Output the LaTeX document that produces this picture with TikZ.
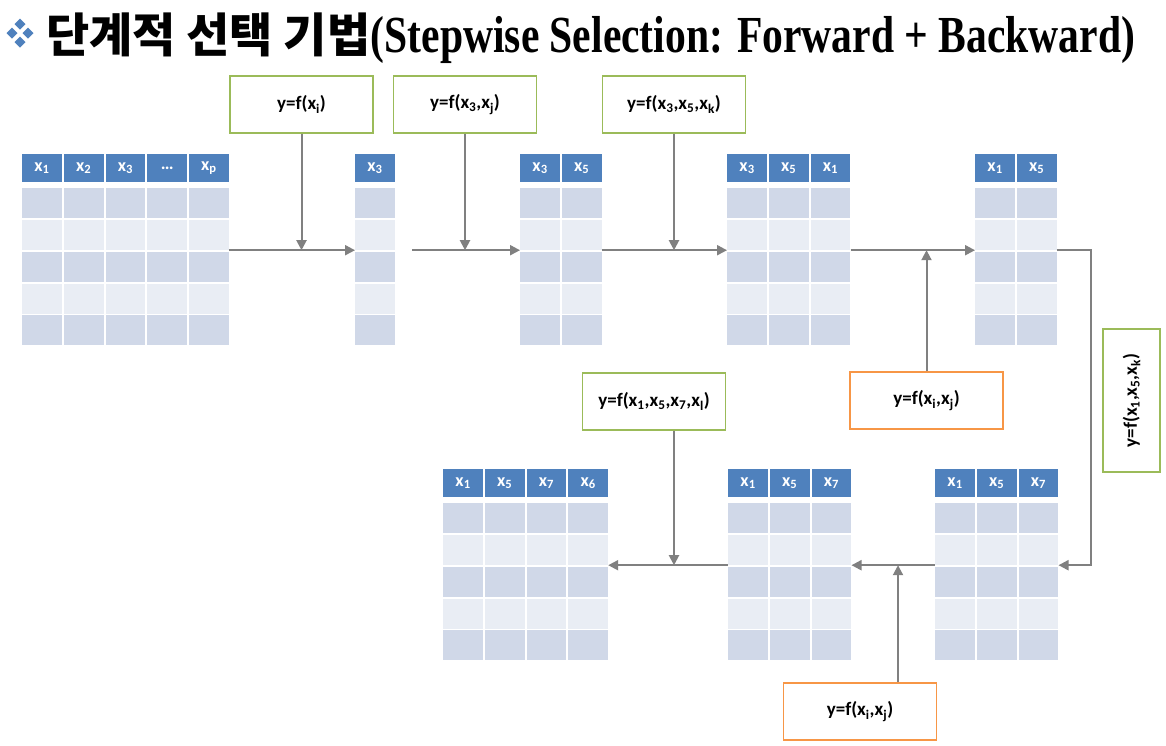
\documentclass[tikz,border=0pt]{standalone}
\usepackage{fontspec}
\setmainfont{Carlito}
\newfontfamily\korfont{Noto Sans CJK KR}
\newfontfamily\titlefont{Liberation Serif}[FakeStretch=0.8]
\usetikzlibrary{positioning,arrows.meta,shapes.geometric}
\definecolor{hdrblue}{HTML}{4F81BD}
\definecolor{celldark}{HTML}{D0D8E8}
\definecolor{celllight}{HTML}{E9EDF4}
\definecolor{arrgray}{HTML}{808080}
\definecolor{boxgreen}{HTML}{9BBB59}
\definecolor{boxorange}{HTML}{F79646}
\newcommand\xs[1]{x\textsubscript{#1}}
\tikzset{
  hcell/.style={fill=hdrblue,text=white,font=\bfseries\fontsize{18}{18}\selectfont,minimum width=39.7pt,minimum height=28pt,inner sep=0pt,anchor=north west},
  dcell/.style={fill=celldark,minimum width=39.7pt,minimum height=30pt,inner sep=0pt,anchor=north west},
  lcell/.style={dcell,fill=celllight},
  fbox/.style={draw=boxgreen,line width=1.5pt,fill=white,minimum width=143pt,minimum height=57pt,inner sep=0pt,font=\bfseries\fontsize{19}{19}\selectfont},
  bbox/.style={fbox,draw=boxorange,minimum width=153pt},
  arr/.style={-{Triangle[length=10pt,width=10pt]},draw=arrgray,line width=2pt},
}
% name, left, top, columns, headers
\newcommand\datatable[5]{%
  \node[inner sep=0pt,minimum width={#4*41.7pt-2pt},minimum height=192pt,anchor=north west] (#1) at (#2,#3) {};
  \foreach \h [count=\c] in {#5} {
    \node[hcell] (#1-h\c) at ({#2+(\c-1)*41.7},#3) {\h};
    \foreach \r/\cs in {1/dcell,2/lcell,3/dcell,4/lcell,5/dcell}
      \node[\cs] (#1-\c-\r) at ({#2+(\c-1)*41.7},{#3+34+(\r-1)*31.8}) {};
  }
}

\begin{document}
\begin{tikzpicture}[x=1pt,y=-1pt]
  \useasboundingbox[fill=white] (0,0) rectangle (1166,745);
  \foreach \x/\y in {20/24,12/33,28/33,20/42}
    \fill[hdrblue] (\x,\y-5.5) -- (\x+5.5,\y) -- (\x,\y+5.5) -- (\x-5.5,\y) -- cycle;
  \node[anchor=base west,inner sep=0pt,font=\korfont\bfseries\fontsize{47}{47}\selectfont] (ttl) at (46,52) {단계적 선택 기법};
  \node[anchor=base west,inner sep=0pt,font=\titlefont\bfseries\fontsize{52}{52}\selectfont] (ttlen) at (ttl.base east) {(Stepwise Selection: Forward + Backward)};

  \datatable{t1}{22}{154}{5}{\xs{1},\xs{2},\xs{3},…,\xs{p}}
  \datatable{t2}{355}{154}{1}{\xs{3}}
  \datatable{t3}{520}{154}{2}{\xs{3},\xs{5}}
  \datatable{t4}{727}{154}{3}{\xs{3},\xs{5},\xs{1}}
  \datatable{t5}{975}{154}{2}{\xs{1},\xs{5}}
  \datatable{tA}{443}{469}{4}{\xs{1},\xs{5},\xs{7},\xs{6}}
  \datatable{tB}{728}{469}{3}{\xs{1},\xs{5},\xs{7}}
  \datatable{tC}{935}{469}{3}{\xs{1},\xs{5},\xs{7}}

  \node[fbox] (g1) at (301.5,104.5) {y=f(\xs{i})};
  \node[fbox] (g2) at (465,104.5) {y=f(\xs{3},\xs{j})};
  \node[fbox] (g3) at (674,104.5) {y=f(\xs{3},\xs{5},\xs{k})};
  \node[bbox] (o1) at (926.5,400.5) {y=f(\xs{i},\xs{j})};
  \node[fbox,rotate=90] (g5) at (1131.5,400.5) {y=f(\xs{1},\xs{5},\xs{k})};
  \node[fbox] (g4) at (654,401.5) {y=f(\xs{1},\xs{5},\xs{7},\xs{l})};
  \node[bbox] (o2) at (860,711.5) {y=f(\xs{i},\xs{j})};
  \coordinate (bend) at (1091,400);

  \draw[arr] (t1.east) -- (t2.west);
  \draw[arr] ([xshift=17pt]t2.east) -- (t3.west);
  \draw[arr] (t3.east) -- (t4.west);
  \draw[arr] (t4.east) -- (t5.west);
  \draw[arr] (t5.east) -| (bend) |- (tC.east);
  \draw[arr] (tC.west) -- (tB.east);
  \draw[arr] (tB.west) -- (tA.east);
  \draw[arr] (g1) -- (g1 |- t1.east);
  \draw[arr] (g2) -- (g2 |- t1.east);
  \draw[arr] (g3) -- (g3 |- t1.east);
  \draw[arr] (o1) -- (o1 |- t4.east);
  \draw[arr] ([xshift=20pt]g4.south) -- ([xshift=20pt]g4.south |- tA.east);
  \draw[arr] ([xshift=38pt]o2.north) -- ([xshift=38pt]o2.north |- tB.east);
\end{tikzpicture}
\end{document}
